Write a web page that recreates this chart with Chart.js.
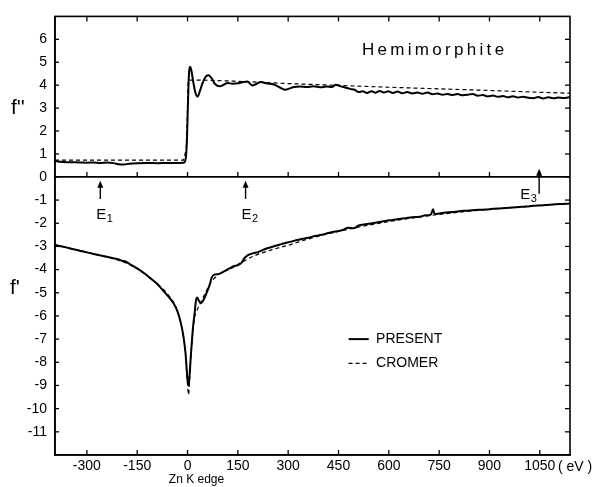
<!DOCTYPE html>
<html><head><meta charset="utf-8">
<script src="https://cdn.jsdelivr.net/npm/chart.js@4.4.1/dist/chart.umd.min.js"></script>
<style>html,body{margin:0;padding:0;background:#fff;}#wrap{width:600px;height:487px;}</style>
</head><body><div id="wrap"><canvas id="c" width="600" height="487"></canvas></div>
<script>
// ---- data (energy relative to Zn K edge, eV ; value in electrons) ----
const xTicks = [-300,-150,0,150,300,450,600,750,900,1050];
const yTopTicks = [0,1,2,3,4,5,6];
const yBotTicks = [-1,-2,-3,-4,-5,-6,-7,-8,-9,-10,-11];

const fppPresent = [[-395,0.70],[-380,0.66],[-350,0.64],[-320,0.63],[-300,0.62],[-280,0.63],[-260,0.61],[-240,0.63],[-220,0.60],[-205,0.55],[-190,0.54],[-175,0.57],[-150,0.60],[-120,0.61],[-90,0.60],[-60,0.61],[-30,0.61],[-12,0.62],[-6,0.75],[-2,1.5],[1,3.0],[4,4.4],[8,4.8],[12,4.6],[17,4.15],[23,3.7],[30,3.5],[37,3.75],[45,4.1],[55,4.38],[63,4.43],[72,4.3],[82,4.05],[96,3.95],[108,4.02],[120,4.1],[135,4.06],[150,4.08],[163,4.13],[178,4.16],[193,3.99],[205,4.05],[218,4.14],[235,4.08],[257,4.03],[275,3.9],[292,3.8],[305,3.86],[317,3.92],[335,3.94],[355,3.92],[375,3.95],[395,3.91],[415,3.94],[430,3.92],[442,4.02],[455,3.96],[470,3.9],[485,3.84],[498,3.8],[510,3.7],[522,3.73],[535,3.66],[548,3.74],[560,3.67],[572,3.75],[585,3.68],[598,3.73],[612,3.66],[626,3.72],[640,3.65],[655,3.7],[670,3.64],[685,3.68],[700,3.63],[715,3.68],[730,3.6],[745,3.64],[760,3.58],[775,3.62],[790,3.57],[805,3.61],[820,3.56],[835,3.58],[850,3.62],[865,3.54],[880,3.57],[895,3.51],[910,3.55],[925,3.49],[940,3.53],[955,3.47],[970,3.52],[985,3.46],[1000,3.5],[1015,3.45],[1030,3.43],[1045,3.48],[1060,3.42],[1075,3.47],[1090,3.43],[1105,3.46],[1120,3.44],[1140,3.48]];

const fppCromer = [[-395,0.73],[-12,0.73],[-4,1.2],[-1,2.5],[1,4.0],[3,4.22],[50,4.22],[150,4.17],[300,4.07],[450,3.99],[600,3.91],[750,3.84],[900,3.77],[1050,3.69],[1140,3.65]];

const fpPresent = [[-395,-2.95],[-370,-3.02],[-340,-3.12],[-310,-3.22],[-280,-3.33],[-250,-3.42],[-225,-3.5],[-205,-3.56],[-195,-3.62],[-185,-3.65],[-170,-3.78],[-150,-3.95],[-130,-4.15],[-110,-4.38],[-90,-4.62],[-70,-4.95],[-55,-5.2],[-40,-5.5],[-30,-5.8],[-20,-6.3],[-12,-6.9],[-6,-7.6],[-2,-8.4],[1,-8.9],[3,-9.0],[6,-8.6],[9,-7.9],[13,-7.1],[17,-6.4],[21,-5.9],[25,-5.35],[29,-5.2],[34,-5.35],[40,-5.45],[48,-5.3],[57,-5.0],[65,-4.7],[72,-4.35],[80,-4.22],[90,-4.2],[100,-4.15],[112,-4.05],[125,-3.95],[138,-3.85],[148,-3.82],[160,-3.72],[170,-3.5],[180,-3.38],[195,-3.3],[210,-3.25],[225,-3.15],[240,-3.07],[260,-2.98],[280,-2.9],[300,-2.82],[320,-2.75],[340,-2.68],[360,-2.63],[380,-2.55],[400,-2.5],[420,-2.42],[440,-2.36],[460,-2.3],[480,-2.2],[495,-2.22],[510,-2.1],[530,-2.04],[550,-2.0],[570,-1.95],[590,-1.9],[610,-1.86],[630,-1.82],[650,-1.78],[670,-1.74],[690,-1.72],[710,-1.66],[725,-1.63],[732,-1.4],[736,-1.6],[750,-1.58],[770,-1.54],[790,-1.52],[810,-1.48],[830,-1.46],[850,-1.44],[870,-1.42],[890,-1.41],[910,-1.38],[930,-1.36],[950,-1.34],[970,-1.32],[990,-1.3],[1010,-1.28],[1030,-1.25],[1050,-1.23],[1070,-1.21],[1090,-1.19],[1110,-1.17],[1140,-1.15]];

const fpCromer = [[-395,-2.92],[-300,-3.25],[-200,-3.62],[-150,-3.97],[-100,-4.5],[-60,-5.05],[-35,-5.6],[-20,-6.3],[-10,-7.1],[-4,-8.0],[0,-8.9],[3,-9.4],[6,-8.8],[10,-7.8],[15,-6.8],[22,-6.0],[30,-5.7],[40,-5.4],[55,-4.95],[70,-4.55],[85,-4.3],[100,-4.15],[130,-3.95],[160,-3.7],[200,-3.4],[250,-3.15],[300,-2.95],[350,-2.72],[450,-2.35],[600,-1.93],[750,-1.62],[900,-1.4],[1050,-1.23],[1140,-1.15]];

const arrowE = [-260, 173, 1048];
const arrowTip = [-0.17, -0.17, 0.35];
const arrowBase = [-0.95, -0.95, -0.73];
const arrowSub = ['1','2','3'];
const seriesNames = ['PRESENT','CROMER'];

// ---- chart ----
const FONT = 'Liberation Sans';
const toXY = arr => arr.map(p => ({x:p[0], y:p[1]}));

function line(ctx,x1,y1,x2,y2){ctx.beginPath();ctx.moveTo(x1,y1);ctx.lineTo(x2,y2);ctx.stroke();}

const decor = {
  id:'decor',
  afterDatasetsDraw(chart){
    const {ctx, chartArea:a, scales} = chart;
    const X = scales.x, YT = scales.yTop, YB = scales.yBot;
    ctx.save();
    ctx.strokeStyle = '#000'; ctx.fillStyle = '#000';
    ctx.lineWidth = 1.6;
    ctx.strokeRect(a.left, a.top, a.right-a.left, a.bottom-a.top);
    const z = YT.getPixelForValue(0);
    line(ctx, a.left, z, a.right, z);
    ctx.lineWidth = 1.3;
    xTicks.forEach(v => {
      const px = X.getPixelForValue(v);
      line(ctx, px, a.top, px, a.top+5);
      line(ctx, px, z, px, z-5);
      line(ctx, px, a.bottom, px, a.bottom-5);
    });
    yTopTicks.forEach(v => {
      const py = YT.getPixelForValue(v);
      line(ctx, a.left, py, a.left+4, py);
      line(ctx, a.right, py, a.right-5, py);
    });
    yBotTicks.forEach(v => {
      const py = YB.getPixelForValue(v);
      line(ctx, a.left, py, a.left+4, py);
      line(ctx, a.right, py, a.right-5, py);
    });
    // arrows
    arrowE.forEach((e,i) => {
      const px = X.getPixelForValue(e);
      const yt = YB.getPixelForValue(arrowTip[i]);
      const yb = YB.getPixelForValue(arrowBase[i]);
      ctx.lineWidth = 1.4;
      line(ctx, px, yb, px, yt+5);
      ctx.beginPath(); ctx.moveTo(px, yt); ctx.lineTo(px-3, yt+7); ctx.lineTo(px+3, yt+7); ctx.closePath(); ctx.fill();
      ctx.textBaseline = 'alphabetic'; ctx.textAlign = 'left';
      let lx, ly;
      if (i === 2) { lx = px - 19; ly = yb + 5; } else { lx = px - 4; ly = yb + 20; }
      ctx.font = '15px "'+FONT+'"';
      ctx.fillText('E', lx, ly);
      const w = ctx.measureText('E').width;
      ctx.font = '11px "'+FONT+'"';
      ctx.fillText(arrowSub[i], lx + w + 0.5, ly + 3);
    });
    // title
    ctx.font = '17px "'+FONT+'"';
    ctx.letterSpacing = '3.3px';
    ctx.textBaseline = 'middle'; ctx.textAlign = 'left';
    ctx.fillText('Hemimorphite', X.getPixelForValue(520), YT.getPixelForValue(5.5));
    ctx.letterSpacing = '0px';
    // axis names
    ctx.font = '21px "'+FONT+'"';
    ctx.textBaseline = 'middle';
    ctx.fillText("f''", 11, YT.getPixelForValue(3));
    ctx.fillText("f'", 10, YB.getPixelForValue(-4.8));
    ctx.font = '12px "'+FONT+'"';
    ctx.textAlign = 'center';
    ctx.fillText('Zn K edge', X.getPixelForValue(0)+9, a.bottom + 25);
    ctx.font = '14px "'+FONT+'"';
    ctx.textAlign = 'left';
    ctx.fillText('( eV )', a.right - 12, a.bottom + 12);
    // legend
    const ds = chart.data.datasets;
    const lx0 = X.getPixelForValue(480), lx1 = X.getPixelForValue(540);
    [ds[0], ds[1]].forEach((d,i) => {
      const py = YB.getPixelForValue(i === 0 ? -7.0 : -8.05);
      ctx.lineWidth = d.borderWidth; ctx.setLineDash(d.borderDash || []);
      line(ctx, lx0, py, lx1, py);
      ctx.setLineDash([]);
      ctx.font = '14px "'+FONT+'"';
      ctx.textBaseline = 'middle'; ctx.textAlign = 'left';
      ctx.fillText(seriesNames[i], X.getPixelForValue(562), py);
    });
    ctx.restore();
  }
};

const tickFont = {family: FONT, size: 14};
new Chart(document.getElementById('c'), {
  type: 'line',
  data: {
    datasets: [
      {label: seriesNames[0]+" f''", data: toXY(fppPresent), yAxisID:'yTop', borderColor:'#000', borderWidth:2, pointRadius:0, cubicInterpolationMode:'monotone'},
      {label: seriesNames[1]+" f''", data: toXY(fppCromer), yAxisID:'yTop', borderColor:'#000', borderWidth:1.2, borderDash:[4,3], pointRadius:0},
      {label: seriesNames[0]+" f'", data: toXY(fpPresent), yAxisID:'yBot', borderColor:'#000', borderWidth:2, pointRadius:0, cubicInterpolationMode:'monotone'},
      {label: seriesNames[1]+" f'", data: toXY(fpCromer), yAxisID:'yBot', borderColor:'#000', borderWidth:1.2, borderDash:[4,3], pointRadius:0, cubicInterpolationMode:'monotone'}
    ]
  },
  options: {
    responsive: false, animation: false, devicePixelRatio: 1,
    layout: {padding: {top: 15, right: 30, left: 0, bottom: 0}},
    plugins: {legend: {display: false}, tooltip: {enabled: false}},
    scales: {
      x: {
        type: 'linear', min: -395, max: 1140,
        afterBuildTicks: s => { s.ticks = xTicks.map(v => ({value: v})); },
        afterFit: s => { s.height = 32; },
        ticks: {font: tickFont, color: '#000', padding: 3, maxRotation: 0, autoSkip: false, callback: v => String(v)},
        grid: {drawOnChartArea: false, drawTicks: false},
        border: {color: '#000', width: 1.6}
      },
      yBot: {
        type: 'linear', position: 'left', stack: 'v', stackWeight: 279, min: -12, max: 0,
        afterBuildTicks: s => { s.ticks = yBotTicks.map(v => ({value: v})); },
        afterFit: s => { s.width = 55; },
        ticks: {font: tickFont, color: '#000', padding: 8, autoSkip: false, callback: v => String(v)},
        grid: {drawOnChartArea: false, drawTicks: false},
        border: {color: '#000', width: 1.6}
      },
      yTop: {
        type: 'linear', position: 'left', stack: 'v', stackWeight: 161, min: 0, max: 7,
        afterBuildTicks: s => { s.ticks = yTopTicks.map(v => ({value: v})); },
        afterFit: s => { s.width = 55; },
        ticks: {font: tickFont, color: '#000', padding: 8, autoSkip: false, callback: v => String(v)},
        grid: {drawOnChartArea: false, drawTicks: false},
        border: {color: '#000', width: 1.6}
      }
    }
  },
  plugins: [decor]
});
</script>
</body></html>
